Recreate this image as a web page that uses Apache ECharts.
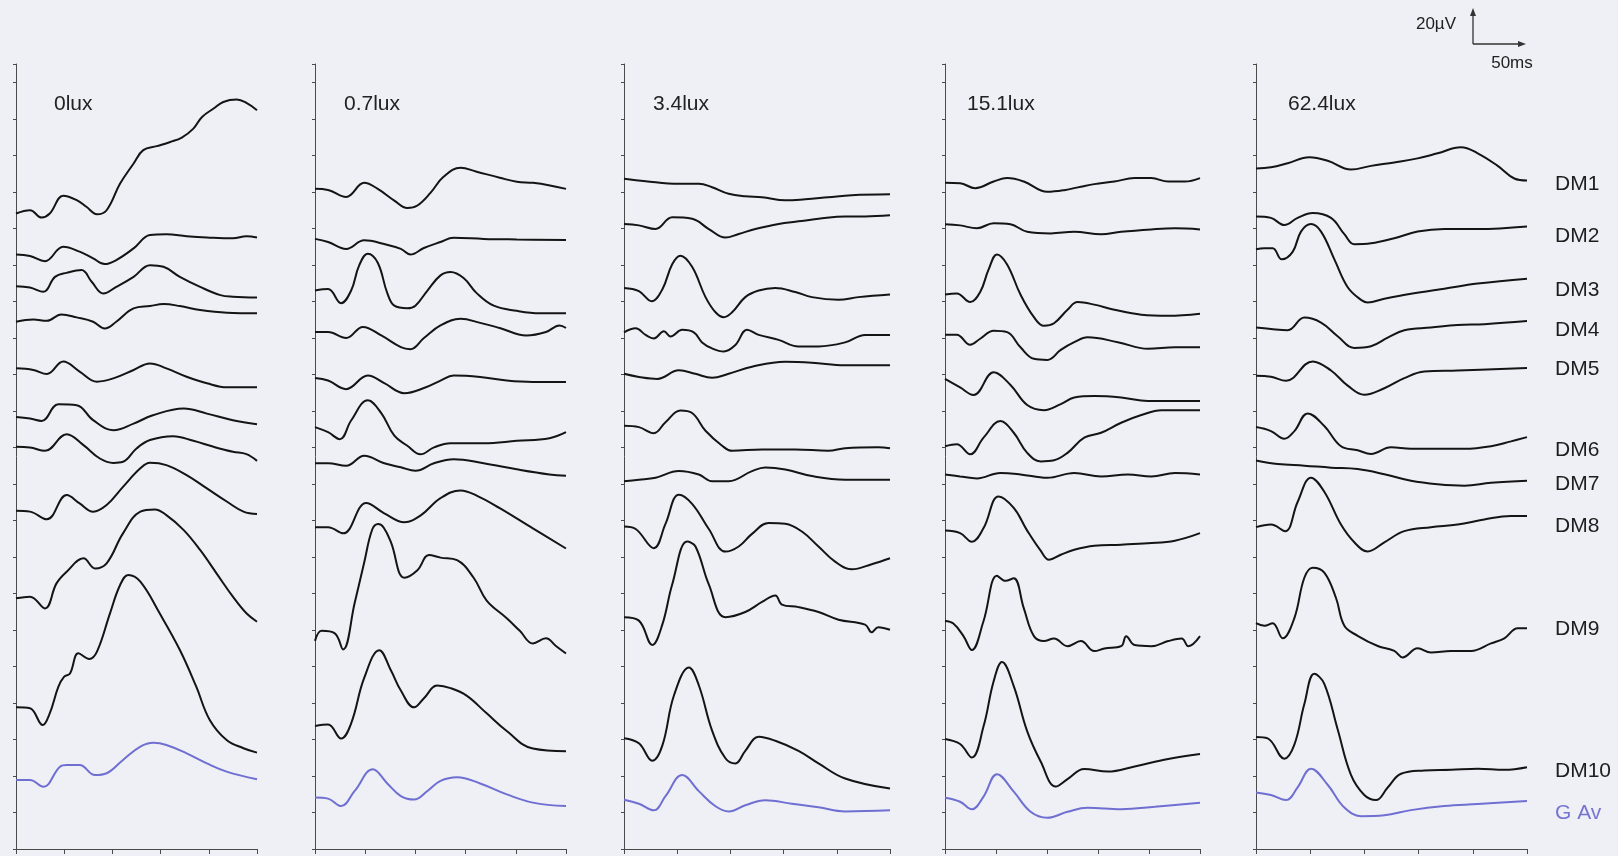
<!DOCTYPE html>
<html>
<head>
<meta charset="utf-8">
<script src="https://cdn.jsdelivr.net/npm/echarts@6/dist/echarts.min.js"></script>
<style>
  html, body { margin: 0; padding: 0; background: #efeff6; }
  #chart { width: 1618px; height: 856px; }
</style>
</head>
<body>
<div id="chart"></div>
<script>
// Flash ERG traces recorded at five background light levels.
// Each trace: [time after flash (ms), amplitude (µV) relative to pre-flash baseline].
const panelTitles = ['0lux', '0.7lux', '3.4lux', '15.1lux', '62.4lux'];
const traceNames = ['DM1', 'DM2', 'DM3', 'DM4', 'DM5', 'DM6', 'DM7', 'DM8', 'DM9', 'DM10', 'G Av'];
const timeTicksMs = [0, 50, 100, 150, 200, 250];

// Vertical stacking offset of each trace (µV), per light level.
const offsets0lux   = [348.1, 325.7, 308.3, 288.8, 263.3, 236.7, 220.3, 185.3, 137.3, 77.6, 37.8];
const offsets07lux  = [361.6, 334.2, 305.9, 283.2, 258.0, 231.1, 211.3, 176.2, 114.0, 67.4, 28.2];
const offsets34lux  = [367.2, 342.4, 307.3, 283.0, 260.3, 231.9, 201.5, 176.7, 127.0, 60.7, 27.0];
const offsets151lux = [365.0, 342.2, 303.7, 281.7, 257.5, 220.6, 205.2, 174.4, 124.9, 60.3, 28.1];
const offsets624lux = [372.8, 346.5, 328.5, 285.6, 259.3, 231.1, 212.8, 176.3, 123.7, 61.4, 31.0];

const traces0lux = [
  [[0,0],[14.5,1.8],[26.6,-2.2],[35,0],[49,9.7],[63,7.3],[73,3.7],[84,-0.4],[94,1.8],[108,16.4],[122,27.4],[132,34.7],[146,36.9],[160,39.2],[172,41.6],[184,46.5],[193,52.9],[205,57.5],[215,61.1],[229,62.4],[239,60.6],[250,56.6]],
  [[0,0],[14.5,-0.9],[30,-3.7],[49,4.2],[66,1.5],[80,-2.2],[92,-5.3],[104,-3.1],[122,3.3],[139,10.6],[156,11],[177,10],[198,9.3],[225,8.8],[239,10],[250,9.3]],
  [[0,0],[14.5,-0.7],[28.4,-3.1],[40.5,5.1],[52.6,7.3],[68,8.8],[78.5,2.4],[90.6,-4],[104,-0.4],[122,5.1],[139,11.5],[153,10.6],[170,5.1],[191,-0.4],[212,-4.9],[225,-5.8],[250,-6.2]],
  [[0,0],[18,1.3],[32,0.5],[47,4],[63,2.4],[80,0],[92,-3.7],[104,0],[122,7.3],[139,8.6],[153,9.7],[170,8.6],[191,6.4],[219,4.9],[250,4.6]],
  [[0,0],[18,-0.9],[32,-3.1],[49,3.7],[66,-1.8],[84,-7.3],[101,-5.5],[122,-0.9],[139,2.7],[156,0],[177,-4.6],[198,-8.2],[219,-10.4],[250,-10.4]],
  [[0,0],[14.5,-0.9],[26.6,-2.2],[44,6.9],[63,6.4],[80,-1.8],[101,-7.3],[122,-3.7],[142,0.9],[174,4.6],[198,1.8],[225,-1.8],[250,-4]],
  [[0,0],[14.5,-0.4],[30,-2.2],[52.6,6.9],[70,0.9],[87,-6.4],[101,-8.8],[111,-8.2],[125,-0.9],[139,3.7],[163,5.8],[184,3.3],[205,0],[225,-2.7],[239,-4],[250,-7.7]],
  [[0,0],[14.5,-0.5],[32,-4.7],[52.6,8.6],[66,4],[80,-0.5],[94,3.1],[111,13.1],[129,23.2],[139,26.3],[156,25],[177,19.5],[198,12.2],[219,4.9],[236,-0.5],[250,-1.8]],
  [[0,0],[14.5,0.9],[30,-5.5],[42,8.2],[52.6,14.6],[70,21.9],[82,16.4],[94,19.2],[111,35.6],[129,47.5],[144,48.7],[156,45.6],[174,37.4],[191,26.5],[208,13.7],[225,0.9],[239,-8.2],[250,-12.8]],
  [[0,0],[14.5,-0.5],[27.7,-9.7],[35,-3.3],[44,11.3],[50,16.8],[56,18.5],[64.7,29.6],[76,26.5],[84,30.5],[97.5,51.5],[108,67],[116.5,72.5],[129,68.8],[149,51.5],[170,31.4],[187,11.3],[201,-6.9],[218.5,-17.9],[236,-22.4],[250,-24.8]],
  [[0,0],[14.5,0],[28.4,-3.7],[45.6,7.3],[52.6,8.2],[66,8.2],[82,2.7],[94,3.7],[111,11],[129,18.3],[142.5,20.4],[156,19.2],[177,14.6],[198,9.1],[218.5,4.6],[250,0.4]]
];

const traces07lux = [
  [[0,0],[13,-0.6],[31,-4.4],[49,3.3],[62.5,0],[79,-6.4],[92,-10.5],[102,-9.1],[115,-2.2],[128,6.6],[145,11.6],[161,9.4],[184,6.1],[201,3.9],[217,3.3],[234,1.9],[250,0]],
  [[0,0],[13,-1.7],[31,-5.5],[49,-0.8],[69,-2.8],[85.5,-5.5],[95,-8.6],[108.5,-5],[125,-1.7],[138,0.6],[168,0],[201,-0.3],[250,-0.6]],
  [[0,0],[13,0.8],[26,-6.9],[36,0],[44,13.8],[52.6,20.2],[62.5,15.2],[72,-1.4],[79,-8.3],[92,-9.7],[100,-8.3],[112,0],[125,8.3],[135,10.2],[148,6.9],[161,-1.4],[178,-8.3],[201,-11.1],[224,-12.4],[250,-12.4]],
  [[0,0],[13,0],[31,-3.3],[47.7,2.8],[66,-1.9],[85.5,-8.3],[95,-9.4],[108.5,-3.3],[125,3.6],[145,7.2],[164.5,5],[184,2.2],[210.5,-1.9],[230,0],[243.5,3.6],[250,2.2]],
  [[0,0],[13,-1.4],[31,-6.1],[52.6,1.4],[69,-2.8],[89,-8.3],[108.5,-5.5],[125,-1.4],[138,1.4],[164.5,0.6],[191,-1.4],[217,-2.2],[250,-2.2]],
  [[0,0],[13,-2.8],[24.7,-6.6],[36,3.6],[52.6,14.7],[66,7.7],[79,-4.7],[92,-10.2],[105,-14.9],[118.5,-11.1],[135,-8.8],[168,-8.8],[201,-7.5],[233.5,-6.1],[250,-2.8]],
  [[0,0],[13,0],[31,-1.4],[49,4.1],[69,0],[85.5,-2.2],[100,-4.1],[118.5,0],[138,2.2],[168,0],[201,-3.3],[233.5,-6.1],[250,-6.9]],
  [[0,0],[13,0],[28,-3.3],[51,13.3],[69,7.7],[89,2.8],[105,6.4],[125,16],[145,20.2],[161,17.4],[184,10.5],[217,-0.6],[250,-11.6]],
  [[0,0],[6.6,5.5],[19.7,4.1],[28,-4.7],[39.5,20.7],[49,42.9],[57,61],[63,64],[68.5,62],[75.7,53.9],[89,34.6],[102,38.7],[113.5,47],[125,45.6],[141.5,44.2],[158,34.6],[171,22.1],[191,12.4],[204,5.5],[217,-1.4],[230,1.4],[240,-2.8],[250,-6.9]],
  [[0,0],[13,0.8],[26,-6.9],[36,1.4],[49,26.3],[64,41.5],[75.7,30.4],[85.5,19.4],[98.7,10.2],[108.5,15.2],[121.7,22.1],[135,20.7],[151,16.6],[171,6.9],[191,-2.8],[217,-12.4],[250,-13.8]],
  [[0,0],[13,-0.6],[26,-4.7],[39.5,3.6],[57.6,15.5],[72,7.7],[85.5,0.8],[98.7,-1.1],[112,3.6],[125,9.1],[141.5,11.1],[164.5,7.7],[191,1.7],[217,-2.8],[250,-4.7]]
];

const traces34lux = [
  [[0,0],[20.3,-1.4],[51.6,-2.8],[70.3,-2.8],[82.8,-4.7],[98.4,-8.3],[114,-9.7],[129.7,-10.2],[151.6,-11.9],[170.3,-11.3],[192,-10.2],[214,-9.1],[250,-8.6]],
  [[0,0],[14,-0.8],[29.7,-2.8],[45.3,3.6],[64,2.8],[79.7,-2.8],[95.3,-7.5],[107.8,-5.5],[123.4,-2.8],[145.3,0],[164,1.4],[182.8,2.8],[207.8,4.1],[226.6,4.1],[250,4.7]],
  [[0,0],[14,-1.7],[26,-7.2],[36,-0.8],[45.3,13],[53,17.7],[64,11.6],[76.6,-5],[86,-13.3],[93.8,-16],[101.6,-13.3],[114,-5],[126.6,-1.4],[142,0],[161,-2.2],[176.6,-5],[201.6,-6.4],[220.3,-5],[250,-3.6]],
  [[0,0],[11,2.2],[20.3,-1.4],[28,-3.3],[37.5,0.6],[43.8,-2.2],[54.7,1.4],[65.6,0],[73.4,-5.5],[82.8,-8.8],[93.8,-10.5],[104.7,-6.9],[115.6,1.4],[126.6,-1.4],[145.3,-4.1],[164,-7.7],[182.8,-7.7],[207.8,-5.5],[226.6,-1.4],[250,-1.4]],
  [[0,0],[14,-1.7],[31.3,-2.8],[51.6,1.9],[67,0],[82.8,-2.2],[98.4,0],[120.3,3.9],[151.6,6.6],[176.6,6.1],[207.8,4.7],[250,4.7]],
  [[0,0],[14,-0.8],[28,-4.1],[39,1.9],[53,8.3],[64,6.9],[76.6,-2.8],[92.2,-11],[101.6,-13.8],[129.7,-13],[161,-13],[192,-13.8],[207.8,-12.4],[239,-11.9],[250,-12.4]],
  [[0,0],[14,0.8],[29.7,1.9],[51.6,5.5],[70.3,3.6],[82.8,0],[98.4,0],[120.3,5.5],[132.8,7.5],[151.6,6.4],[176.6,2.8],[207.8,0.8],[250,0.8]],
  [[0,0],[11,-1.4],[28,-11.9],[39,1.4],[51.6,17.4],[64,12.4],[79.7,-1.4],[95.3,-13.8],[107.8,-11],[120.3,-4.1],[136,1.9],[151.6,1.4],[167.2,-2.8],[182.8,-11],[198.4,-19.3],[214,-23.5],[232.8,-20.7],[250,-17.4]],
  [[0,0],[14,-1.9],[26.6,-15.2],[36,-4.1],[45.3,17.9],[59.4,41.4],[67.2,38.7],[79.7,17.9],[95.3,0],[114,2.8],[129.7,8.3],[142.2,11.9],[148.4,6.9],[164,5.5],[182.8,2.8],[201.6,-1.4],[226.6,-4.1],[232.8,-8.3],[239,-5.5],[250,-6.9]],
  [[0,0],[14,-2.8],[26.6,-12.4],[36,-4.1],[47,23.5],[61,38.7],[70.3,29],[82.8,4.1],[95.3,-11],[104.7,-13.8],[114,-6.9],[126.6,0.8],[142.2,-1.4],[164,-6.9],[182.8,-13.8],[207.8,-22.1],[250,-27.6]],
  [[0,0],[14,-2.2],[28,-5.8],[39,1.9],[54.7,13.5],[70.3,4.7],[86,-3.6],[98.4,-6.4],[114,-3],[132.8,-0.3],[157.8,-2.2],[182.8,-4.1],[207.8,-6.4],[250,-5.8]]
];

const traces151lux = [
  [[0,0],[14.8,-0.3],[29.6,-3],[47.7,0.6],[60.9,2.5],[77.3,0.6],[100.3,-5],[116.8,-4.1],[133.2,-2.2],[146.4,-0.8],[166.1,0.6],[185.9,2.5],[202.3,2.5],[218.8,0.6],[235.2,0.6],[250,2.5]],
  [[0,0],[14.8,-0.6],[31.3,-2.2],[47.7,0.6],[64.2,0],[80.6,-4.1],[103.6,-5],[126.7,-4.1],[153,-5.5],[172.7,-4.1],[202.3,-2.8],[225.4,-2.2],[250,-2.8]],
  [[0,0],[11.5,0.6],[24.7,-4.1],[34.5,1.4],[42.8,13.8],[51,22],[60.9,16.5],[74,0],[87.2,-12.4],[97,-17.1],[106.9,-15.7],[120.1,-8.3],[130,-4.1],[146.4,-5.5],[166.1,-8.3],[192.5,-11],[218.8,-11.6],[250,-10.5]],
  [[0,0],[11.5,0],[24.7,-5.5],[34.5,-2.2],[47.7,2.2],[60.9,1.4],[74,-6.9],[87.2,-13.2],[100.3,-13.8],[113.5,-8.3],[126.7,-4.1],[139.8,-1.4],[169.4,-4.1],[199,-7.7],[225.4,-6.9],[250,-6.9]],
  [[0,0],[14.8,-4.7],[28,-8.8],[47.7,3.6],[64.2,-3.3],[80.6,-14.3],[97,-17.1],[113.5,-13.8],[126.7,-10.2],[146.4,-9.4],[172.7,-10.2],[199,-12.1],[225.4,-12.1],[250,-12.1]],
  [[0,0],[11.5,1.1],[24.7,-4.4],[37.8,4.7],[54.3,13.8],[67.4,7.4],[80.6,-3.6],[93.8,-8.3],[106.9,-7.7],[120.1,-3.6],[136.5,4.7],[153,7.4],[172.7,12.9],[192.5,17.1],[212.2,19.8],[250,19.8]],
  [[0,0],[14.8,-1.1],[31.3,-2.2],[54.3,0.8],[74,0],[100.3,-1.9],[126.7,0.8],[153,-1.1],[179.3,0],[202.3,-1.1],[225.4,0.8],[250,0]],
  [[0,0],[14.8,-1.4],[26.3,-6.1],[37.8,1.4],[52.6,18.7],[67.4,12.4],[80.6,0],[93.8,-11],[102,-16],[113.5,-13.2],[126.7,-10.5],[146.4,-8.3],[172.7,-7.7],[199,-6.9],[225.4,-5.5],[250,-1.4]],
  [[0,0],[8.2,-1.4],[18.1,-8.3],[26.3,-15.9],[37.8,0],[51,24.8],[59.2,22],[67.4,23.4],[77.3,6.9],[87.2,-8.3],[97,-11],[106.9,-9.6],[120.1,-13.8],[133.2,-11],[146.4,-16.5],[156.3,-15.1],[172.7,-13.8],[177.6,-8.3],[185.9,-13.2],[202.3,-13.8],[218.8,-11],[232,-9.6],[238.6,-13.8],[250,-8.3]],
  [[0,0],[14.8,-2.8],[26.3,-10.2],[37.8,6.9],[47.7,31.6],[55.9,42.1],[67.4,28.9],[80.6,4.1],[93.8,-12.4],[108.6,-26.1],[120.1,-22],[136.5,-16.5],[159.6,-17.9],[185.9,-15.1],[218.8,-11],[250,-8.3]],
  [[0,0],[14.8,-2.2],[26.3,-6.3],[37.8,0.6],[51,12.9],[67.4,3.3],[83.9,-7.7],[100.3,-11],[120.1,-7.7],[139.8,-5.5],[172.7,-6.3],[205.6,-5],[250,-2.8]]
];

const traces624lux = [
  [[0,0],[13.8,0.6],[29.2,2.8],[49.2,6.1],[66.1,4.2],[87.6,-0.6],[106.1,1.4],[127.6,3.3],[149.1,5.5],[167.6,8.3],[189.1,11.6],[204.5,8.3],[223,1.4],[238.3,-5.5],[250,-6.6]],
  [[0,0],[13.8,-0.8],[26.1,-4.7],[38.4,-0.8],[52.3,1.9],[69.2,-0.8],[81.5,-9.7],[90.7,-15.2],[106.1,-14.7],[127.6,-11.9],[149.1,-8.3],[173.7,-6.9],[204.5,-6.9],[250,-5.5]],
  [[0,0],[7.7,0.6],[15.4,0.6],[23.7,-5.5],[33.8,-1.4],[41.5,9.7],[50.7,13.8],[60,9.7],[72.3,-5.5],[84.6,-20.8],[96.9,-27.7],[103,-29.1],[118.4,-27.1],[143,-24.4],[173.7,-21.6],[204.5,-18.8],[250,-16.1]],
  [[0,0],[13.8,-0.8],[29.2,-1.4],[44.6,5.5],[60,2.8],[75.3,-4.7],[90.7,-11.1],[106.1,-10.2],[121.5,-5.5],[136.8,-1.4],[161.4,0],[186,1.4],[210.6,1.9],[250,3.6]],
  [[0,0],[13.8,-0.6],[27.7,-2.8],[52.3,7.8],[69.2,2.8],[84.6,-5.5],[99.9,-10.5],[118.4,-6.9],[136.8,-1.4],[155.3,2.2],[186,2.8],[250,4.2]],
  [[0,0],[13.8,-2.2],[26.1,-6.4],[35.4,-2.2],[47.7,7.5],[63,0.6],[78.4,-10.5],[93.8,-12.7],[106.1,-14.7],[124.5,-11.1],[143,-11.9],[167.6,-11.9],[192.2,-11.9],[216.8,-10.5],[235.2,-7.8],[250,-5.5]],
  [[0,0],[20,-1.9],[44.6,-2.8],[69.2,-3.9],[93.8,-4.7],[118.4,-7.5],[143,-11.1],[167.6,-13],[192.2,-13.8],[216.8,-12.2],[250,-11.1]],
  [[0,0],[13.8,1.4],[26.8,-2.2],[38.4,13.8],[50.7,27.1],[63,19.4],[78.4,1.4],[90.7,-8.3],[103,-13.3],[118.4,-8.3],[136.8,-2.2],[161.4,0],[186,1.4],[210.6,4.2],[235.2,6.1],[250,6.1]],
  [[0,0],[7.7,-1.4],[15.4,0],[24.6,-8.3],[35.4,2.8],[44.6,24.9],[52.3,30.4],[63,27.7],[73.8,13.8],[81.5,-1.4],[93.8,-6.9],[112.3,-12.5],[127.6,-15.2],[135.3,-18.8],[149.1,-13.8],[161.4,-16.1],[180,-15.2],[198.4,-15.2],[216.8,-11.1],[229.1,-8.3],[241.4,-2.8],[250,-2.8]],
  [[0,0],[10.8,-0.8],[26.1,-11.9],[35.4,-4.2],[44.6,18],[53.8,34.6],[63,29.1],[75.3,4.2],[87.6,-20.8],[99.9,-31.8],[110.7,-34.6],[121.5,-27.7],[133.8,-20.2],[155.3,-18.4],[180,-18],[204.5,-17.4],[229.1,-18],[250,-16.6]],
  [[0,0],[13.8,-1.4],[27.7,-4.2],[38.4,2.8],[50.7,13],[66.1,4.2],[81.5,-8.3],[96.9,-13],[118.4,-12.5],[143,-9.7],[173.7,-7.5],[204.5,-6.4],[250,-4.7]]
];

// ---------- drawing ----------
const TRACE_COLOR = '#141414';
const AVG_COLOR = '#6f6fd2';
const AXIS_COLOR = '#4a4a4a';
const FONT = 'Liberation Sans, Arial, sans-serif';

const panels = [
  { title: panelTitles[0], traces: traces0lux,   offsets: offsets0lux },
  { title: panelTitles[1], traces: traces07lux,  offsets: offsets07lux },
  { title: panelTitles[2], traces: traces34lux,  offsets: offsets34lux },
  { title: panelTitles[3], traces: traces151lux, offsets: offsets151lux },
  { title: panelTitles[4], traces: traces624lux, offsets: offsets624lux }
];

// plot boxes (left, width) in px; all share top and height
const boxes = [[16, 241], [315, 251], [624, 266], [945, 255], [1256, 271]];
const titleX = [54, 344, 653, 967, 1288];
const TOP = 64, HEIGHT = 785;
const tStep = timeTicksMs[1] - timeTicksMs[0];

const grid = [], xAxis = [], yAxis = [], series = [], graphic = [];

panels.forEach((p, pi) => {
  const [left, width] = boxes[pi];
  grid.push({ left, top: TOP, width, height: HEIGHT, containLabel: false });
  xAxis.push({
    gridIndex: pi, type: 'value',
    min: timeTicksMs[0], max: timeTicksMs[timeTicksMs.length - 1], interval: tStep,
    axisLine: { show: true, onZero: false, lineStyle: { color: AXIS_COLOR, width: 1 } },
    axisTick: { show: true, length: 5, inside: false, lineStyle: { color: AXIS_COLOR, width: 1 } },
    axisLabel: { show: false }, splitLine: { show: false }
  });
  yAxis.push({
    gridIndex: pi, type: 'value', min: 0, max: 430, interval: 20,
    axisLine: { show: true, onZero: false, lineStyle: { color: AXIS_COLOR, width: 1 } },
    axisTick: { show: true, length: 3, inside: false, lineStyle: { color: AXIS_COLOR, width: 1 } },
    axisLabel: { show: false }, splitLine: { show: false }
  });
  p.traces.forEach((tr, ti) => {
    const isAvg = ti === traceNames.length - 1;
    series.push({
      type: 'line', name: traceNames[ti] + ' ' + p.title,
      xAxisIndex: pi, yAxisIndex: pi,
      data: tr.map(([t, v]) => [t, p.offsets[ti] + v]),
      showSymbol: false, smooth: 0.4, silent: true, animation: false,
      lineStyle: { width: 2, color: isAvg ? AVG_COLOR : TRACE_COLOR }
    });
  });
  graphic.push({
    type: 'text', x: titleX[pi], y: 104,
    style: { text: p.title, font: '21px ' + FONT, fill: '#222',
             textAlign: 'left', textVerticalAlign: 'middle', align: 'left', verticalAlign: 'middle' }
  });
});

// trace names at the right-hand side
const labelY = [184, 236, 290, 330, 369, 450, 484, 526, 629, 771, 813];
traceNames.forEach((n, i) => {
  graphic.push({
    type: 'text', x: 1555, y: labelY[i],
    style: { text: n, font: '21px ' + FONT, fill: i === traceNames.length - 1 ? '#7676d2' : '#1e1e1e',
             textAlign: 'left', textVerticalAlign: 'middle', align: 'left', verticalAlign: 'middle' }
  });
});

// calibration bar: 20 µV vertical, 50 ms horizontal
const sb = { x: 1473, y: 44 };
graphic.push(
  { type: 'line', shape: { x1: sb.x, y1: sb.y, x2: sb.x, y2: 14 }, style: { stroke: '#333', lineWidth: 1.3 } },
  { type: 'polygon', shape: { points: [[sb.x, 8], [sb.x - 3, 16], [sb.x + 3, 16]] }, style: { fill: '#333' } },
  { type: 'line', shape: { x1: sb.x, y1: sb.y, x2: 1519, y2: sb.y }, style: { stroke: '#333', lineWidth: 1.3 } },
  { type: 'polygon', shape: { points: [[1526, sb.y], [1518, sb.y - 3], [1518, sb.y + 3]] }, style: { fill: '#333' } },
  { type: 'text', x: 1456, y: 24, style: { text: '20µV', font: '17px ' + FONT, fill: '#222',
      textAlign: 'right', textVerticalAlign: 'middle', align: 'right', verticalAlign: 'middle' } },
  { type: 'text', x: 1512, y: 63, style: { text: '50ms', font: '17px ' + FONT, fill: '#222',
      textAlign: 'center', textVerticalAlign: 'middle', align: 'center', verticalAlign: 'middle' } }
);

const chart = echarts.init(document.getElementById('chart'), null, { renderer: 'canvas' });
chart.setOption({
  backgroundColor: '#efeff6',
  animation: false,
  grid, xAxis, yAxis, series, graphic
});
</script>
</body>
</html>
